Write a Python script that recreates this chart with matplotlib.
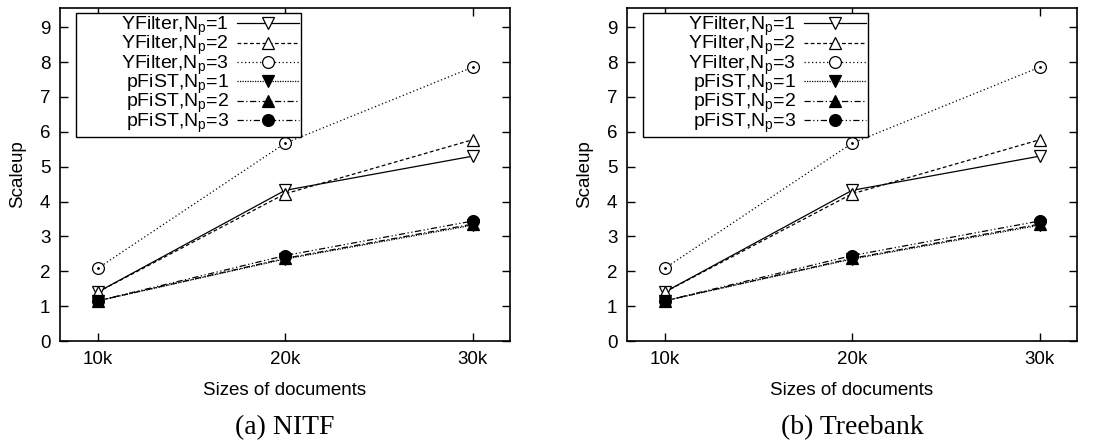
import matplotlib
matplotlib.use("Agg")
import matplotlib.pyplot as plt

plt.rcParams['font.family'] = ['Liberation Sans', 'DejaVu Sans']
plt.rcParams['mathtext.fontset'] = 'custom'
plt.rcParams['mathtext.rm'] = 'Liberation Sans'
plt.rcParams['mathtext.it'] = 'Liberation Sans'

# dati (uguali nei due pannelli)
sizes = [10, 20, 30]
size_labels = ['10k', '20k', '30k']

yfilter_np1 = [1.40, 4.32, 5.30]
yfilter_np2 = [1.40, 4.22, 5.77]
yfilter_np3 = [2.08, 5.67, 7.85]
pfist_np1 = [1.15, 2.35, 3.32]
pfist_np2 = [1.15, 2.37, 3.35]
pfist_np3 = [1.15, 2.45, 3.44]

labels = [r'        YFilter,N$_\mathregular{p}$=1', r'YFilter,N$_\mathregular{p}$=2',
          r'YFilter,N$_\mathregular{p}$=3', r'pFiST,N$_\mathregular{p}$=1',
          r'pFiST,N$_\mathregular{p}$=2', r'pFiST,N$_\mathregular{p}$=3']
series = [yfilter_np1, yfilter_np2, yfilter_np3, pfist_np1, pfist_np2, pfist_np3]
panels = ['(a) NITF', '(b) Treebank']

# stili tipo gnuplot
styles = [
    dict(ls='-', marker='v', mfc='white'),
    dict(ls=(0, (3, 2)), marker='^', mfc='white'),
    dict(ls=(0, (1, 2)), marker='o', mfc='white'),
    dict(ls=(0, (1, 1)), marker='v', mfc='black'),
    dict(ls=(0, (5, 2, 1, 2)), marker='^', mfc='black'),
    dict(ls=(0, (5, 2, 1, 2, 1, 2)), marker='o', mfc='black'),
]

fig = plt.figure(figsize=(11.15, 4.42), dpi=100)
lefts = [60 / 1115, 627 / 1115]

for i, title in enumerate(panels):
    ax = fig.add_axes([lefts[i], 101 / 442, 450 / 1115, 333 / 442])
    for vals, lab, st in zip(series, labels, styles):
        ax.plot(sizes, vals, color='black', lw=0.9, ls=st['ls'], marker=st['marker'],
                mfc=st['mfc'], mec='black', mew=0.9, ms=8.5, label=lab)
    # puntino al centro dei cerchi vuoti
    ax.plot(sizes, yfilter_np3, ls='none', marker='.', ms=2, color='black')

    ax.set_xlim(8, 32)
    ax.set_ylim(0, 9.55)
    ax.set_xticks(sizes)
    ax.set_xticklabels(size_labels)
    ax.set_yticks(range(10))
    ax.tick_params(direction='in', length=6, width=1, top=True, right=True,
                   labelsize=13.5, pad=7)
    for sp in ax.spines.values():
        sp.set_linewidth(1.2)

    ax.set_xlabel('Sizes of documents', fontsize=13.5, labelpad=10)
    ax.set_ylabel('Scaleup', fontsize=13.5, labelpad=10)

    leg = ax.legend(loc='upper left', bbox_to_anchor=(0.036, 0.985), fontsize=14,
                    markerfirst=False, handlelength=3.2, handletextpad=0.4,
                    labelspacing=-0.2, borderpad=0.1, borderaxespad=0,
                    fancybox=False, framealpha=1, edgecolor='black')
    leg.get_frame().set_linewidth(1.0)

    ax.text(0.5, -0.26, title, transform=ax.transAxes, ha='center', va='center',
            fontsize=20, family='Liberation Serif')

plt.savefig('out.png', dpi=100)
